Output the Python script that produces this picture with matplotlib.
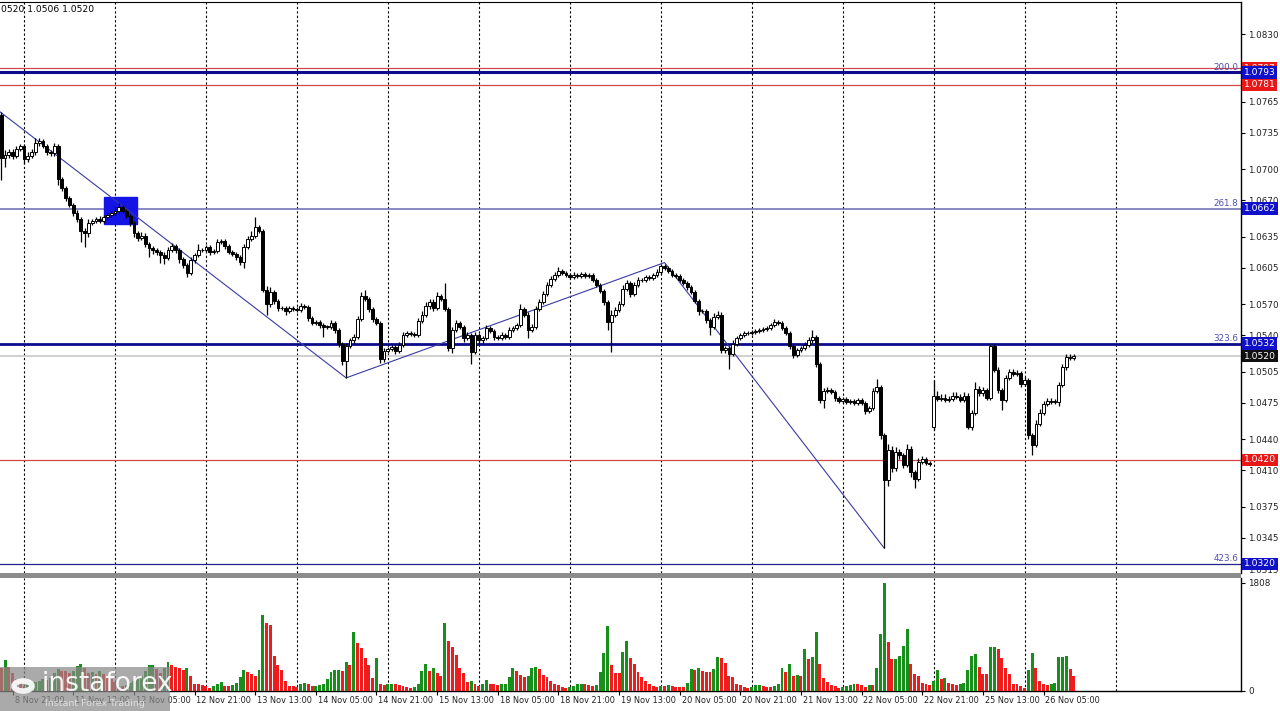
"""EURUSD H1 chart, MT4 style: candles, fibo levels, zigzag and volumes."""

import matplotlib
matplotlib.use("Agg")
import matplotlib.pyplot as plt
from matplotlib.patches import Rectangle, Circle
import numpy as np

# ---------------- data ----------------
# hour index: 0 = 11 Nov 00:00, weekends skipped; prices in pips above 1.0000
FIRST_T = -6
FIRST_OPEN = 752

close_pips = [
    711, 714, 716, 713, 719, 722,
    710, 713, 716, 725, 727, 722, 716, 715, 722, 690, 682, 672, 665, 658, 652, 640, 638, 648, 650, 652, 650, 654, 656, 658,
    660, 663, 660, 655, 648, 638, 634, 636, 628, 624, 622, 620, 617, 614, 622, 626, 622, 613, 608, 600, 612, 617, 622, 622,
    625, 620, 621, 630, 631, 626, 620, 618, 615, 611, 625, 633, 636, 644, 640, 584, 570, 582, 573, 566, 566, 563, 566, 565,
    564, 568, 567, 557, 552, 553, 550, 548, 548, 552, 545, 532, 515, 530, 535, 538, 556, 578, 575, 565, 556, 552, 517, 525,
    527, 529, 525, 531, 540, 542, 541, 540, 554, 560, 568, 572, 566, 578, 575, 565, 528, 545, 552, 548, 537, 540, 524, 540,
    535, 537, 547, 544, 538, 537, 540, 538, 545, 547, 550, 565, 560, 545, 548, 565, 572, 580, 588, 594, 598, 602, 600, 598,
    596, 598, 597, 599, 597, 598, 593, 588, 583, 572, 553, 560, 564, 570, 585, 590, 580, 588, 593, 593, 596, 595, 598, 601,
    607, 605, 602, 598, 597, 593, 590, 586, 582, 573, 563, 563, 555, 548, 558, 560, 526, 528, 522, 532, 537, 540, 542, 542,
    543, 544, 545, 546, 547, 550, 553, 552, 547, 542, 530, 521, 526, 528, 531, 535, 538, 512, 478, 486, 487, 485, 480, 477,
    479, 476, 477, 475, 478, 475, 467, 470, 486, 490, 444, 401, 430, 412, 428, 425, 415, 431, 408, 402, 418, 421, 417, 416,
    482, 479, 480, 478, 479, 482, 481, 478, 482, 452, 465, 488, 484, 487, 480, 530, 507, 487, 478, 499, 505, 503, 504, 493,
    497, 444, 434, 455, 465, 474, 477, 476, 476, 492, 509, 519, 518, 520,
]
wick_up = [
    3, 4, 3, 3, 3, 2,
    2, 3, 3, 5, 3, 2, 2, 2, 3, 2, 2, 2, 2, 2, 3, 2, 3, 4, 2, 2, 3, 2, 2, 2,
    3, 4, 2, 2, 2, 2, 2, 3, 2, 2, 2, 2, 2, 3, 3, 3, 2, 2, 2, 2, 3, 2, 6, 2,
    2, 2, 2, 3, 2, 2, 2, 2, 2, 2, 3, 3, 4, 10, 2, 2, 3, 4, 2, 2, 2, 2, 2, 2,
    2, 3, 2, 2, 2, 2, 2, 2, 2, 3, 2, 2, 2, 3, 2, 3, 3, 4, 6, 2, 2, 2, 2, 3,
    2, 2, 2, 3, 3, 2, 2, 2, 3, 3, 4, 3, 3, 4, 2, 15, 2, 3, 3, 2, 2, 3, 2, 3,
    2, 2, 3, 2, 2, 2, 3, 2, 3, 2, 2, 5, 2, 2, 3, 3, 3, 3, 3, 3, 3, 4, 2, 2,
    2, 3, 2, 2, 2, 2, 2, 2, 2, 2, 2, 4, 3, 3, 3, 3, 2, 3, 3, 2, 2, 2, 2, 3,
    2, 2, 2, 2, 2, 2, 2, 2, 2, 2, 2, 2, 2, 2, 3, 3, 2, 2, 2, 3, 2, 2, 2, 2,
    2, 2, 2, 2, 2, 2, 3, 2, 2, 2, 2, 2, 2, 2, 3, 3, 7, 2, 2, 3, 3, 2, 2, 2,
    2, 2, 2, 2, 2, 2, 2, 2, 3, 8, 2, 2, 5, 3, 4, 3, 2, 4, 2, 2, 4, 3, 2, 2,
    15, 4, 3, 3, 3, 3, 3, 2, 3, 2, 3, 7, 3, 3, 2, 2, 2, 2, 2, 3, 3, 3, 3, 2,
    3, 2, 2, 3, 4, 3, 3, 3, 3, 3, 3, 3, 3, 2,
]
wick_dn = [
    22, 9, 3, 3, 2, 2,
    5, 3, 2, 2, 3, 2, 2, 2, 2, 5, 3, 3, 2, 3, 3, 10, 13, 3, 2, 2, 2, 2, 2, 2,
    2, 2, 2, 2, 3, 3, 3, 2, 3, 9, 4, 3, 7, 5, 2, 2, 3, 3, 3, 4, 2, 2, 2, 2,
    2, 3, 2, 2, 2, 3, 2, 2, 3, 3, 6, 2, 2, 2, 2, 2, 10, 3, 3, 3, 2, 3, 2, 2,
    2, 2, 2, 3, 2, 2, 3, 10, 2, 2, 3, 3, 4, 16, 2, 2, 2, 2, 2, 3, 3, 2, 4, 3,
    2, 2, 3, 2, 2, 2, 2, 2, 2, 2, 2, 3, 3, 2, 2, 2, 3, 5, 2, 2, 3, 2, 12, 2,
    3, 2, 2, 2, 3, 2, 2, 2, 2, 2, 2, 2, 2, 8, 2, 2, 2, 2, 2, 2, 2, 2, 2, 2,
    2, 2, 2, 2, 2, 2, 2, 2, 2, 3, 8, 29, 2, 2, 2, 2, 3, 2, 2, 2, 2, 2, 2, 2,
    2, 2, 2, 2, 2, 2, 2, 2, 2, 2, 3, 2, 3, 8, 2, 2, 3, 3, 14, 2, 2, 2, 2, 2,
    2, 2, 2, 2, 2, 2, 2, 2, 2, 2, 3, 3, 2, 2, 2, 2, 2, 3, 3, 8, 2, 2, 3, 2,
    2, 2, 2, 2, 2, 2, 3, 2, 2, 2, 4, 66, 6, 4, 3, 4, 3, 2, 4, 9, 2, 2, 2, 2,
    3, 2, 2, 2, 2, 2, 2, 2, 2, 2, 3, 2, 2, 2, 2, 2, 2, 3, 10, 2, 2, 2, 2, 3,
    2, 4, 9, 2, 2, 2, 2, 2, 2, 4, 2, 2, 2, 2,
]
gap_open = {240: 452}       # weekend gap (25 Nov open)

volume = [
    390, 513, 400, 300, 200, 150,
    80, 100, 130, 150, 170, 200, 180, 220, 300, 360, 340, 340, 300, 330, 420, 446, 390, 300, 320, 280, 330, 290, 250, 200,
    150, 90, 80, 100, 130, 160, 200, 250, 330, 435, 440, 363, 300, 380, 491, 430, 410, 380, 346, 390, 251, 123, 112, 100,
    84, 56, 84, 112, 156, 84, 80, 95, 134, 234, 346, 324, 279, 251, 346, 1267, 1144, 1105, 586, 430, 346, 167, 84, 80,
    73, 112, 140, 112, 84, 90, 100, 112, 200, 318, 346, 350, 335, 491, 435, 993, 809, 725, 558, 430, 223, 547, 112, 95,
    123, 125, 118, 100, 84, 62, 56, 70, 112, 335, 458, 335, 390, 307, 251, 1144, 837, 742, 603, 390, 296, 156, 167, 112,
    84, 112, 184, 123, 118, 100, 112, 123, 234, 379, 335, 262, 234, 251, 379, 407, 363, 262, 234, 167, 123, 95, 73, 56,
    62, 84, 112, 123, 112, 95, 90, 100, 324, 642, 1088, 430, 307, 300, 653, 837, 558, 458, 318, 234, 167, 112, 84, 73,
    84, 80, 100, 84, 73, 70, 66, 128, 363, 346, 390, 335, 318, 310, 363, 569, 547, 474, 251, 234, 112, 95, 67, 56,
    60, 95, 106, 78, 73, 67, 84, 123, 390, 318, 458, 251, 262, 251, 698, 530, 569, 988, 458, 223, 156, 95, 84, 56,
    62, 84, 100, 123, 112, 106, 73, 100, 95, 379, 949, 1808, 820, 530, 541, 586, 753, 1032, 458, 279, 251, 128, 112, 95,
    167, 346, 206, 223, 128, 123, 95, 112, 140, 346, 586, 614, 407, 290, 280, 737, 740, 709, 547, 379, 279, 112, 110, 84,
    56, 346, 631, 390, 167, 123, 106, 123, 140, 569, 575, 578, 363, 251,
]

# zigzag anchors (hour index, price) and the blue box
zigzag_t = [-7, 85, 169, 227]
zigzag_p = [1.0757, 1.0499, 1.0610, 1.0335]
box_t = [21.1, 29.8]
box_p = [1.0647, 1.0673]

red_levels = [1.0797, 1.0781, 1.0420]
fib_levels = [1.0793, 1.0662, 1.0532, 1.0320]
fib_names = ["200.0", "261.8", "323.6", "423.6"]
bid_price = 1.0520

price_ticks = [1.0830, 1.0765, 1.0735, 1.0700, 1.0670, 1.0635, 1.0605, 1.0570,
               1.0540, 1.0505, 1.0475, 1.0440, 1.0410, 1.0375, 1.0345, 1.0315]
vol_ticks = [0, 1808]
day_start_t = [0, 24, 48, 72, 96, 120, 144, 168, 192, 216, 240, 264, 288]
xlabel_t = [-3, 13, 29, 45, 61, 77, 93, 109, 125, 141, 157, 173, 189, 205, 221, 237, 253, 269]
xlabel_text = ["8 Nov 21:00", "11 Nov 13:00", "12 Nov 05:00", "12 Nov 21:00", "13 Nov 13:00",
               "14 Nov 05:00", "14 Nov 21:00", "15 Nov 13:00", "18 Nov 05:00", "18 Nov 21:00",
               "19 Nov 13:00", "20 Nov 05:00", "20 Nov 21:00", "21 Nov 13:00", "22 Nov 05:00",
               "22 Nov 21:00", "25 Nov 13:00", "26 Nov 05:00"]
header = "0520 1.0506 1.0520"

# ---------------- layout ----------------
W, H = 1280, 711
BAR_PX = 3.79          # pixels per hourly bar
X0_PX = 24             # pixel of hour index 0
PLOT_RIGHT = 1241


def px_box(x0, y0, x1, y1):
    return [x0 / W, 1 - y1 / H, (x1 - x0) / W, (y1 - y0) / H]


def px_to_price(y):
    return 1.0830 - (y - 34) / 10389.0


plt.rcParams["font.family"] = ["DejaVu Sans"]
fig = plt.figure(figsize=(W / 100, H / 100), dpi=100)
fig.patch.set_facecolor("white")
ax = fig.add_axes(px_box(0, 2, PLOT_RIGHT, 573))
axv = fig.add_axes(px_box(0, 578, PLOT_RIGHT, 691))

xlim = (-X0_PX / BAR_PX, (PLOT_RIGHT - X0_PX) / BAR_PX)
for a in (ax, axv):
    a.set_xlim(*xlim)
    a.set_facecolor("white")
    for d in day_start_t:
        a.axvline(d, color="black", lw=0.8, ls=(0, (2, 2)), zorder=1)
    a.spines["left"].set_visible(False)
    a.spines["right"].set_linewidth(1.0)
    a.tick_params(axis="y", direction="out", length=3, width=0.8, labelsize=6.3,
                  pad=2, right=True, left=False, labelright=True, labelleft=False,
                  labelcolor="#202020")

ax.set_ylim(px_to_price(573), px_to_price(2))
ax.spines["bottom"].set_visible(False)
ax.set_xticks([])
ax.set_yticks(price_ticks)
ax.set_yticklabels([f"{p:.4f}" for p in price_ticks])

# ---------------- candles ----------------
t = np.arange(FIRST_T, FIRST_T + len(close_pips))
close = 1.0 + np.array(close_pips) / 1e4
opens = np.r_[1.0 + FIRST_OPEN / 1e4, close[:-1]]
for gt, gp in gap_open.items():
    opens[gt - FIRST_T] = 1.0 + gp / 1e4
body_top = np.maximum(opens, close)
body_bot = np.minimum(opens, close)
high = body_top + np.array(wick_up) / 1e4
low = body_bot - np.array(wick_dn) / 1e4
height = np.maximum(body_top - body_bot, 0.00005)
bull = close >= opens

ax.vlines(t, low, high, color="black", lw=0.9, zorder=4)
ax.bar(t[bull], height[bull], bottom=body_bot[bull], width=0.74,
       facecolor="white", edgecolor="black", lw=0.7, zorder=5)
ax.bar(t[~bull], height[~bull], bottom=body_bot[~bull], width=0.74,
       facecolor="black", edgecolor="black", lw=0.7, zorder=5)

# ---------------- objects ----------------
ax.add_patch(Rectangle((box_t[0], box_p[0]), box_t[1] - box_t[0], box_p[1] - box_p[0],
                       facecolor="#1414e6", edgecolor="#1414e6", zorder=3))
ax.plot(zigzag_t, zigzag_p, color="#3a3aa6", lw=0.8, zorder=3)

for p in red_levels:
    ax.axhline(p, color="#d04848", lw=0.9, zorder=2)
fib_styles = [("#0c0c8c", 2.2), ("#7474b8", 1.2), ("#0c0c8c", 2.0), ("#23238a", 0.9)]
for p, (c, w) in zip(fib_levels, fib_styles):
    ax.axhline(p, color=c, lw=w, zorder=2)
ax.axhline(bid_price, color="#c8c8c8", lw=1.2, zorder=2)

for p, name in zip(fib_levels, fib_names):
    ax.text((PLOT_RIGHT - 3) / PLOT_RIGHT, p + 0.00005, name,
            transform=ax.get_yaxis_transform(), fontsize=6.3, color="#4d4db4",
            ha="right", va="bottom", zorder=6)

# price tags on right axis
tags = [(red_levels[0], "#e81818"), (fib_levels[0], "#1010c8"), (red_levels[1], "#e81818"),
        (fib_levels[1], "#1010c8"), (fib_levels[2], "#1010c8"), (bid_price, "#101010"),
        (red_levels[2], "#e81818"), (fib_levels[3], "#1010c8")]
for p, c in tags:
    ax.text(1.0022, p, f"{p:.4f}", transform=ax.get_yaxis_transform(), fontsize=6.6,
            color="white", ha="left", va="center", clip_on=False, zorder=10,
            bbox=dict(boxstyle="square,pad=0.2", facecolor=c, edgecolor="none"))

fig.text(1 / W, 1 - 10 / H, header, fontsize=6.6, color="black", ha="left", va="center")

# ---------------- volumes ----------------
vol = np.array(volume)
grow = np.r_[False, vol[1:] > vol[:-1]]
vcolors = np.where(grow, "#16901a", "#ee1c1c")
axv.bar(t, vol, width=0.78, color=vcolors, zorder=3)
axv.set_ylim(0, (691 - 578) * 1808 / 108.0)
axv.spines["top"].set_visible(False)
axv.spines["bottom"].set_linewidth(1.0)
axv.set_yticks(vol_ticks)
axv.set_yticklabels([str(v) for v in vol_ticks])
axv.set_xticks(xlabel_t)
axv.set_xticklabels([])
axv.tick_params(axis="x", direction="out", length=3, width=0.8)
for xt, lab in zip(xlabel_t, xlabel_text):
    axv.text(xt + 0.5, -0.085, lab, transform=axv.get_xaxis_transform(), fontsize=5.9,
             ha="left", va="center", color="#202020", clip_on=False)

# grey separator between the panels
fig.patches.append(Rectangle((0, 1 - 578 / H), PLOT_RIGHT / W, 5 / H, transform=fig.transFigure,
                             facecolor="#8c8c8c", edgecolor="none"))

# ---------------- watermark ----------------
fig.patches.append(Rectangle((0, 0), 170 / W, 44 / H, transform=fig.transFigure,
                             facecolor="#8a8a8a", edgecolor="none", alpha=0.72, zorder=20))
fig.patches.append(Circle((23 / W, 1 - 686 / H), 9 / W, transform=fig.transFigure,
                          facecolor="none", edgecolor="white", lw=4, alpha=0.9, zorder=21))
fig.text(41 / W, 1 - 684 / H, "instaforex", fontsize=19, color="white", alpha=0.92,
         ha="left", va="center", zorder=22)
fig.text(45 / W, 1 - 703 / H, "Instant Forex Trading", fontsize=6.8, color="#e0e0e0",
         ha="left", va="center", zorder=22)

fig.savefig("out.png", dpi=100, facecolor="white")
